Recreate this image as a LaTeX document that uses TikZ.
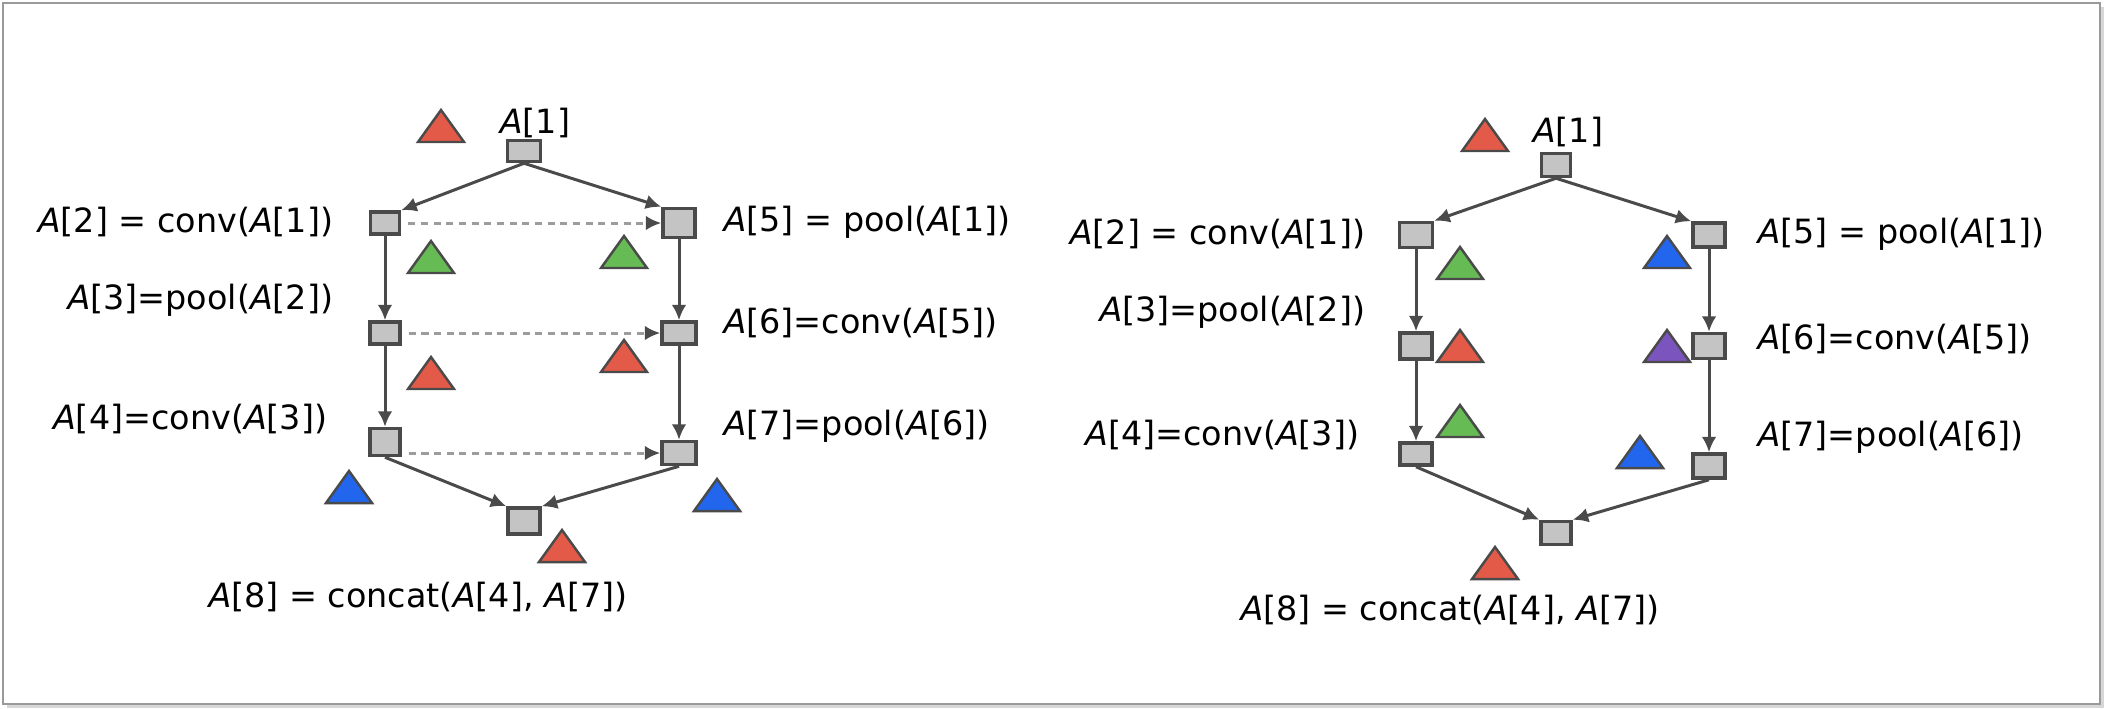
\documentclass[tikz,border=0pt]{standalone}
\usepackage{fontspec}
\setmainfont{DejaVu Sans}
\usepackage{xcolor}
\definecolor{edge}{HTML}{4A4A4A}
\definecolor{boxfill}{HTML}{C4C4C4}
\definecolor{dashgrey}{HTML}{9C9C9C}
\definecolor{tred}{HTML}{E35B48}
\definecolor{tgreen}{HTML}{66BB55}
\definecolor{tblue}{HTML}{2266EE}
\definecolor{tpurple}{HTML}{7B55BD}
\definecolor{framegrey}{HTML}{9A9A9A}
\usetikzlibrary{arrows.meta}
\newcommand{\vA}{\textit{A}}

\tikzset{
  op/.style={draw=edge, line width=1pt, fill=boxfill, inner sep=0pt,
             minimum width=0.31cm, minimum height=0.23cm},
  lbl/.style={inner sep=0pt, font=\fontsize{9.5}{11}\selectfont},
  flow/.style={edge, line width=0.85pt, -{Latex[length=4.4pt,width=4.2pt]}},
  share/.style={dashgrey, line width=0.85pt, dash pattern=on 2pt off 1.6pt,
                shorten <=2pt, -{Latex[length=4.4pt,width=4.2pt,color=edge]}},
  marker/.style={draw=edge, line width=0.7pt, line join=miter}
}

\begin{document}
\begin{tikzpicture}[x=0.01cm,y=-0.01cm]
  \useasboundingbox (0,0) rectangle (2104,708);
  % frame
  \draw[framegrey!40, line width=1.2pt] (7,706) -- (2102,706) -- (2102,7);
  \draw[framegrey, line width=0.8pt] (3,3) rectangle (2100,704);

  % placement markers
  \foreach \x/\y/\c in {441/142/tred,431/273/tgreen,624/268/tgreen,431/389/tred,
                        624/372/tred,349/503/tblue,717/511/tblue,562/562/tred,
                        1485/151/tred,1460/279/tgreen,1667/268/tblue,1460/362/tred,
                        1667/362/tpurple,1460/437/tgreen,1640/468/tblue,1495/579/tred}
    \filldraw[marker, fill=\c] (\x-23,\y) -- (\x,\y-32) -- (\x+23,\y) -- cycle;

  % left cell
  \node[op, minimum width=0.33cm, minimum height=0.21cm] (a1) at (524,151) {};
  \node[op, minimum width=0.29cm, minimum height=0.22cm] (a2) at (385,223) {};
  \node[op, minimum width=0.30cm, minimum height=0.22cm] (a3) at (385,333) {};
  \node[op, minimum width=0.30cm, minimum height=0.27cm] (a4) at (385,442) {};
  \node[op, minimum width=0.32cm, minimum height=0.29cm] (a5) at (679,223) {};
  \node[op, minimum width=0.34cm, minimum height=0.22cm] (a6) at (679,333) {};
  \node[op, minimum width=0.34cm, minimum height=0.23cm] (a7) at (679,453) {};
  \node[op, minimum width=0.32cm, minimum height=0.26cm] (a8) at (524,521) {};

  \node[lbl] (la1) at (535,123) {\vA[1]};
  \node[lbl, anchor=east] (la2) at (334,222) {\vA[2] = conv(\vA[1])};
  \node[lbl, anchor=east] (la3) at (334,300) {\vA[3]=pool(\vA[2])};
  \node[lbl, anchor=east] (la4) at (328,419) {\vA[4]=conv(\vA[3])};
  \node[lbl, anchor=west] (la5) at (723,222) {\vA[5] = pool(\vA[1])};
  \node[lbl, anchor=west] (la6) at (723,323) {\vA[6]=conv(\vA[5])};
  \node[lbl, anchor=west] (la7) at (723,426) {\vA[7]=pool(\vA[6])};
  \node[lbl] (la8) at (418,597) {\vA[8] = concat(\vA[4], \vA[7])};

  \draw[flow] (a1.south) -- (a2.north east);
  \draw[flow] (a1.south) -- (a5.north west);
  \draw[flow] (a2) -- (a3);
  \draw[flow] (a3) -- (a4);
  \draw[flow] (a5) -- (a6);
  \draw[flow] (a6) -- (a7);
  \draw[flow] (a4.south) -- (a8.north west);
  \draw[flow] (a7.south) -- (a8.north east);
  \draw[share] (a2) -- (a5);
  \draw[share] (a3) -- (a6);
  \draw[share] (a7.west -| a4.east) -- (a7.west);

  % right cell
  \node[op, minimum width=0.29cm] (b1) at (1556,165) {};
  \node[op, minimum width=0.33cm, minimum height=0.25cm] (b2) at (1416,235) {};
  \node[op, minimum width=0.32cm, minimum height=0.26cm] (b3) at (1416,346) {};
  \node[op, minimum width=0.32cm, minimum height=0.22cm] (b4) at (1416,454) {};
  \node[op, minimum width=0.32cm, minimum height=0.24cm] (b5) at (1709,235) {};
  \node[op, minimum width=0.32cm, minimum height=0.25cm] (b6) at (1709,346) {};
  \node[op, minimum width=0.32cm, minimum height=0.24cm] (b7) at (1709,466) {};
  \node[op, minimum width=0.30cm] (b8) at (1556,533) {};

  \node[lbl] (lb1) at (1568,132) {\vA[1]};
  \node[lbl, anchor=east] (lb2) at (1366,234) {\vA[2] = conv(\vA[1])};
  \node[lbl, anchor=east] (lb3) at (1366,312) {\vA[3]=pool(\vA[2])};
  \node[lbl, anchor=east] (lb4) at (1360,435) {\vA[4]=conv(\vA[3])};
  \node[lbl, anchor=west] (lb5) at (1757,234) {\vA[5] = pool(\vA[1])};
  \node[lbl, anchor=west] (lb6) at (1757,339) {\vA[6]=conv(\vA[5])};
  \node[lbl, anchor=west] (lb7) at (1757,437) {\vA[7]=pool(\vA[6])};
  \node[lbl] (lb8) at (1450,610) {\vA[8] = concat(\vA[4], \vA[7])};

  \draw[flow] (b1.south) -- (b2.north east);
  \draw[flow] (b1.south) -- (b5.north west);
  \draw[flow] (b2) -- (b3);
  \draw[flow] (b3) -- (b4);
  \draw[flow] (b5) -- (b6);
  \draw[flow] (b6) -- (b7);
  \draw[flow] (b4.south) -- (b8.north west);
  \draw[flow] (b7.south) -- (b8.north east);
\end{tikzpicture}
\end{document}
